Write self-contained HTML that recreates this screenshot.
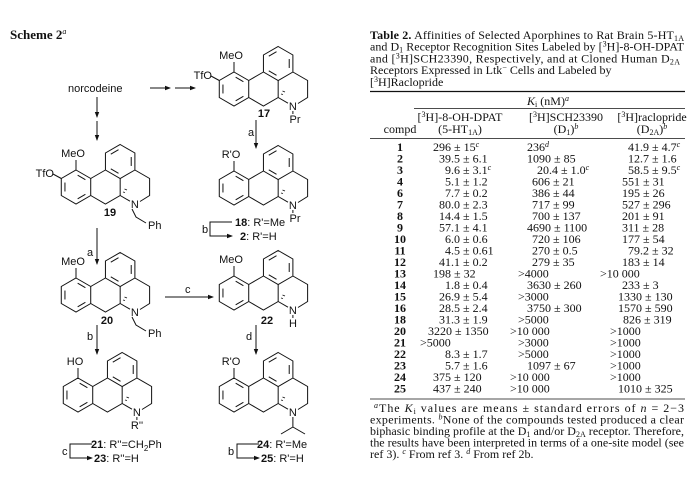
<!DOCTYPE html>
<html><head><meta charset="utf-8"><style>
html,body{margin:0;padding:0;background:#fff;width:700px;height:489px;overflow:hidden}
svg{display:block}
.s{font-family:"Liberation Sans",sans-serif;font-size:11px;fill:#111}
.t{font-family:"Liberation Serif",serif;font-size:12px;fill:#111}
.b{font-weight:bold}
.ln{stroke:#111;stroke-width:1;fill:none}
</style></head><body>
<svg width="700" height="489" viewBox="0 0 700 489" xmlns="http://www.w3.org/2000/svg">
<defs>
<marker id="ah" markerWidth="6" markerHeight="6" refX="5" refY="3" orient="auto" markerUnits="userSpaceOnUse"><path d="M0,0.8 L6,3 L0,5.2z" fill="#111"/></marker>
<g id="ap">
<polygon class="ln" points="0,-17 14.72,-8.5 14.72,8.5 0,17 -14.72,8.5 -14.72,-8.5"/>
<polyline class="ln" points="14.72,8.5 29.44,17 44.17,8.5 44.17,-8.5"/>
<polygon class="ln" points="44.17,-42.5 58.89,-34 58.89,-17 44.17,-8.5 29.44,-17 29.44,-34"/>
<polyline class="ln" points="29.44,-17 14.72,-8.5"/>
<polyline class="ln" points="58.89,-17 73.61,-8.5 73.61,8.5 64,14.5"/>
<line class="ln" x1="44.17" y1="8.5" x2="54" y2="14.2"/>
<line class="ln" x1="-11.05" y1="-4.46" x2="-11.05" y2="4.46"/>
<line class="ln" x1="1.66" y1="11.8" x2="9.39" y2="7.33"/>
<line class="ln" x1="9.39" y1="-7.33" x2="1.66" y2="-11.8"/>
<line class="ln" x1="34.78" y1="-32.83" x2="42.51" y2="-37.3"/>
<line class="ln" x1="55.22" y1="-29.96" x2="55.22" y2="-21.04"/>
<line class="ln" x1="42.51" y1="-13.7" x2="34.78" y2="-18.17"/>
<g stroke="#111" stroke-width="0.9"><line x1="47" y1="5" x2="49" y2="5.5"/><line x1="48.5" y1="2" x2="51" y2="3"/></g>
<text class="s" x="58.9" y="21" text-anchor="middle">N</text>
</g>
</defs>

<text class="t b" x="10" y="39" style="font-size:13px">Scheme 2<tspan font-style="italic" font-weight="normal" font-size="8" dy="-5">a</tspan></text>

<text class="s" x="68" y="92">norcodeine</text>
<g class="ln">
<line x1="150" y1="88" x2="170" y2="88" marker-end="url(#ah)"/>
<line x1="175" y1="88" x2="195" y2="88" marker-end="url(#ah)"/>
<line x1="97" y1="97" x2="97" y2="117" marker-end="url(#ah)"/>
<line x1="97" y1="121" x2="97" y2="140" marker-end="url(#ah)"/>
<line x1="256" y1="120" x2="256" y2="148" marker-end="url(#ah)"/>
<line x1="97" y1="228" x2="97" y2="264" marker-end="url(#ah)"/>
<line x1="97" y1="325" x2="97" y2="354" marker-end="url(#ah)"/>
<line x1="165" y1="297" x2="213" y2="297" marker-end="url(#ah)"/>
<line x1="256" y1="325" x2="256" y2="354" marker-end="url(#ah)"/>
<polyline points="232,222 210,222 210,236 232,236" marker-end="url(#ah)"/>
<polyline points="92,444 70,444 70,458 92,458" marker-end="url(#ah)"/>
<polyline points="259,444 237,444 237,458 259,458" marker-end="url(#ah)"/>
</g>
<text class="s" x="248" y="136">a</text>
<text class="s" x="87" y="256">a</text>
<text class="s" x="87" y="340">b</text>
<text class="s" x="185" y="293">c</text>
<text class="s" x="246" y="340">d</text>
<text class="s" x="202" y="233">b</text>
<text class="s" x="62" y="455">c</text>
<text class="s" x="228" y="455">b</text>

<!-- 17 -->
<g transform="translate(234,89)">
<use href="#ap"/>
<line class="ln" x1="0" y1="-17" x2="0" y2="-27"/>
<text class="s" x="-3" y="-30" text-anchor="middle">MeO</text>
<line class="ln" x1="-14.72" y1="-8.5" x2="-23" y2="-13"/>
<text class="s" x="-22" y="-10" text-anchor="end">TfO</text>
<line class="ln" x1="58.89" y1="22" x2="58.89" y2="25"/>
<text class="s" x="61" y="34" text-anchor="middle">Pr</text>
</g>
<text class="s b" x="264" y="117" text-anchor="middle">17</text>

<!-- 19 -->
<g transform="translate(76,187)">
<use href="#ap"/>
<line class="ln" x1="0" y1="-17" x2="0" y2="-27"/>
<text class="s" x="-3" y="-30" text-anchor="middle">MeO</text>
<line class="ln" x1="-14.72" y1="-8.5" x2="-23" y2="-13"/>
<text class="s" x="-22" y="-10" text-anchor="end">TfO</text>
<polyline class="ln" points="56,22 60,30 70,36"/>
<text class="s" x="72" y="42">Ph</text>
</g>
<text class="s b" x="110" y="216" text-anchor="middle">19</text>

<!-- 18 -->
<g transform="translate(234,188)">
<use href="#ap"/>
<line class="ln" x1="0" y1="-17" x2="0" y2="-27"/>
<text class="s" x="-3" y="-30" text-anchor="middle">R'O</text>
<line class="ln" x1="58.89" y1="22" x2="58.89" y2="25"/>
<text class="s" x="61" y="34" text-anchor="middle">Pr</text>
</g>
<text class="s" x="235" y="226"><tspan class="b">18</tspan>: R'=Me</text>
<text class="s" x="240" y="240"><tspan class="b">2</tspan>: R'=H</text>

<!-- 20 -->
<g transform="translate(76,295)">
<use href="#ap"/>
<line class="ln" x1="0" y1="-17" x2="0" y2="-27"/>
<text class="s" x="-3" y="-30" text-anchor="middle">MeO</text>
<polyline class="ln" points="56,22 60,30 70,36"/>
<text class="s" x="72" y="42">Ph</text>
</g>
<text class="s b" x="107" y="324" text-anchor="middle">20</text>

<!-- 22 -->
<g transform="translate(234,293)">
<use href="#ap"/>
<line class="ln" x1="0" y1="-17" x2="0" y2="-27"/>
<text class="s" x="-3" y="-30" text-anchor="middle">MeO</text>
<line class="ln" x1="58.89" y1="22" x2="58.89" y2="25"/>
<text class="s" x="59" y="34" text-anchor="middle">H</text>
</g>
<text class="s b" x="267" y="324" text-anchor="middle">22</text>

<!-- 21 -->
<g transform="translate(78,395)">
<use href="#ap"/>
<line class="ln" x1="0" y1="-17" x2="0" y2="-27"/>
<text class="s" x="-3" y="-30" text-anchor="middle">HO</text>
<line class="ln" x1="58.89" y1="22" x2="58.89" y2="25"/>
<text class="s" x="59" y="34" text-anchor="middle">R''</text>
</g>
<text class="s" x="91" y="448"><tspan class="b">21</tspan>: R''=CH<tspan font-size="8" dy="3">2</tspan><tspan dy="-3">Ph</tspan></text>
<text class="s" x="94" y="462"><tspan class="b">23</tspan>: R''=H</text>

<!-- 24 -->
<g transform="translate(234,395)">
<use href="#ap"/>
<line class="ln" x1="0" y1="-17" x2="0" y2="-27"/>
<text class="s" x="-3" y="-30" text-anchor="middle">R'O</text>
<polyline class="ln" points="58.89,22 58.89,32 47,39"/>
<line class="ln" x1="58.89" y1="32" x2="71" y2="39"/>
</g>
<text class="s" x="257" y="448"><tspan class="b">24</tspan>: R'=Me</text>
<text class="s" x="261" y="462"><tspan class="b">25</tspan>: R'=H</text>

<!-- TABLE -->
<text class="t" x="370" y="39" textLength="314" lengthAdjust="spacing"><tspan class="b">Table 2.</tspan> Affinities of Selected Aporphines to Rat Brain 5-HT<tspan font-size="8" dy="2">1A</tspan></text>
<text class="t" x="370" y="50.7" textLength="314" lengthAdjust="spacing">and D<tspan font-size="8" dy="2">1</tspan><tspan dy="-2"> Receptor Recognition Sites Labeled by [</tspan><tspan font-size="8" dy="-4">3</tspan><tspan dy="4">H]-8-OH-DPAT</tspan></text>
<text class="t" x="370" y="62.3" textLength="310" lengthAdjust="spacing">and [<tspan font-size="8" dy="-4">3</tspan><tspan dy="4">H]SCH23390, Respectively, and at Cloned Human D</tspan><tspan font-size="8" dy="2">2A</tspan></text>
<text class="t" x="370" y="74">Receptors Expressed in Ltk<tspan font-size="8" dy="-4">−</tspan><tspan dy="4"> Cells and Labeled by</tspan></text>
<text class="t" x="370" y="86">[<tspan font-size="8" dy="-4">3</tspan><tspan dy="4">H]Raclopride</tspan></text>
<line x1="370" y1="91.5" x2="685" y2="91.5" stroke="#111" stroke-width="1.3"/>
<text class="t" x="548" y="105" text-anchor="middle"><tspan font-style="italic">K</tspan><tspan font-size="8" dy="2">i</tspan><tspan dy="-2"> (nM)</tspan><tspan font-size="8" font-style="italic" dy="-4">a</tspan></text>
<line x1="414" y1="108.5" x2="685" y2="108.5" stroke="#111" stroke-width="0.8"/>
<text class="t" x="460" y="121" text-anchor="middle">[<tspan font-size="8" dy="-4">3</tspan><tspan dy="4">H]-8-OH-DPAT</tspan></text>
<text class="t" x="460" y="133" text-anchor="middle">(5-HT<tspan font-size="8" dy="2">1A</tspan><tspan dy="-2">)</tspan></text>
<text class="t" x="566" y="121" text-anchor="middle">[<tspan font-size="8" dy="-4">3</tspan><tspan dy="4">H]SCH23390</tspan></text>
<text class="t" x="566" y="133" text-anchor="middle">(D<tspan font-size="8" dy="2">1</tspan><tspan dy="-2">)</tspan><tspan font-size="8" font-style="italic" dy="-4">b</tspan></text>
<text class="t" x="652" y="121" text-anchor="middle">[<tspan font-size="8" dy="-4">3</tspan><tspan dy="4">H]raclopride</tspan></text>
<text class="t" x="652" y="133" text-anchor="middle">(D<tspan font-size="8" dy="2">2A</tspan><tspan dy="-2">)</tspan><tspan font-size="8" font-style="italic" dy="-4">b</tspan></text>
<text class="t" x="400" y="133" text-anchor="middle">compd</text>
<line x1="370" y1="138.5" x2="685" y2="138.5" stroke="#111" stroke-width="0.8"/>

<g class="t">
<g class="b" text-anchor="middle">
<text x="400" y="151">1</text><text x="400" y="162.5">2</text><text x="400" y="174">3</text><text x="400" y="185.5">4</text><text x="400" y="197">6</text><text x="400" y="208.5">7</text><text x="400" y="220">8</text><text x="400" y="231.5">9</text><text x="400" y="243">10</text><text x="400" y="254.5">11</text><text x="400" y="266">12</text><text x="400" y="277.5">13</text><text x="400" y="289">14</text><text x="400" y="300.5">15</text><text x="400" y="312">16</text><text x="400" y="323.5">18</text><text x="400" y="335">20</text><text x="400" y="346.5">21</text><text x="400" y="358">22</text><text x="400" y="369.5">23</text><text x="400" y="381">24</text><text x="400" y="392.5">25</text>
</g>
<text x="433" y="151">296 ± 15<tspan font-size="8" font-style="italic" dy="-4">c</tspan></text>
<text x="439" y="162.5">39.5 ± 6.1</text>
<text x="445" y="174">9.6 ± 3.1<tspan font-size="8" font-style="italic" dy="-4">c</tspan></text>
<text x="445" y="185.5">5.1 ± 1.2</text>
<text x="445" y="197">7.7 ± 0.2</text>
<text x="439" y="208.5">80.0 ± 2.3</text>
<text x="439" y="220">14.4 ± 1.5</text>
<text x="439" y="231.5">57.1 ± 4.1</text>
<text x="445" y="243">6.0 ± 0.6</text>
<text x="445" y="254.5">4.5 ± 0.61</text>
<text x="439" y="266">41.1 ± 0.2</text>
<text x="433" y="277.5">198 ± 32</text>
<text x="445" y="289">1.8 ± 0.4</text>
<text x="439" y="300.5">26.9 ± 5.4</text>
<text x="439" y="312">28.5 ± 2.4</text>
<text x="439" y="323.5">31.3 ± 1.9</text>
<text x="428" y="335">3220 ± 1350</text>
<text x="420" y="346.5">&gt;5000</text>
<text x="445" y="358">8.3 ± 1.7</text>
<text x="445" y="369.5">5.7 ± 1.6</text>
<text x="433" y="381">375 ± 120</text>
<text x="433" y="392.5">437 ± 240</text>

<text x="527" y="151">236<tspan font-size="8" font-style="italic" dy="-4">d</tspan></text>
<text x="527" y="162.5">1090 ± 85</text>
<text x="537" y="174">20.4 ± 1.0<tspan font-size="8" font-style="italic" dy="-4">c</tspan></text>
<text x="532" y="185.5">606 ± 21</text>
<text x="532" y="197">386 ± 44</text>
<text x="532" y="208.5">717 ± 99</text>
<text x="532" y="220">700 ± 137</text>
<text x="527" y="231.5">4690 ± 1100</text>
<text x="532" y="243">720 ± 106</text>
<text x="532" y="254.5">270 ± 0.5</text>
<text x="532" y="266">279 ± 35</text>
<text x="518" y="277.5">&gt;4000</text>
<text x="527" y="289">3630 ± 260</text>
<text x="518" y="300.5">&gt;3000</text>
<text x="527" y="312">3750 ± 300</text>
<text x="518" y="323.5">&gt;5000</text>
<text x="510" y="335">&gt;10 000</text>
<text x="518" y="346.5">&gt;3000</text>
<text x="518" y="358">&gt;5000</text>
<text x="527" y="369.5">1097 ± 67</text>
<text x="510" y="381">&gt;10 000</text>
<text x="510" y="392.5">&gt;10 000</text>

<text x="628" y="151">41.9 ± 4.7<tspan font-size="8" font-style="italic" dy="-4">c</tspan></text>
<text x="628" y="162.5">12.7 ± 1.6</text>
<text x="628" y="174">58.5 ± 9.5<tspan font-size="8" font-style="italic" dy="-4">c</tspan></text>
<text x="622" y="185.5">551 ± 31</text>
<text x="622" y="197">195 ± 26</text>
<text x="622" y="208.5">527 ± 296</text>
<text x="622" y="220">201 ± 91</text>
<text x="622" y="231.5">311 ± 28</text>
<text x="622" y="243">177 ± 54</text>
<text x="628" y="254.5">79.2 ± 32</text>
<text x="622" y="266">183 ± 14</text>
<text x="600" y="277.5">&gt;10 000</text>
<text x="622" y="289">233 ± 3</text>
<text x="618" y="300.5">1330 ± 130</text>
<text x="618" y="312">1570 ± 590</text>
<text x="623" y="323.5">826 ± 319</text>
<text x="610" y="335">&gt;1000</text>
<text x="610" y="346.5">&gt;1000</text>
<text x="610" y="358">&gt;1000</text>
<text x="610" y="369.5">&gt;1000</text>
<text x="610" y="381">&gt;1000</text>
<text x="618" y="392.5">1010 ± 325</text>
</g>
<line x1="370" y1="399" x2="685" y2="399" stroke="#111" stroke-width="0.8"/>
<text class="t" x="374" y="412" textLength="310" lengthAdjust="spacing"><tspan font-size="8" font-style="italic" dy="-4">a</tspan><tspan dy="4">The </tspan><tspan font-style="italic">K</tspan><tspan font-size="8" dy="2">i</tspan><tspan dy="-2"> values are means ± standard errors of </tspan><tspan font-style="italic">n</tspan> = 2−3</text>
<text class="t" x="370" y="423.5" textLength="314" lengthAdjust="spacing">experiments. <tspan font-size="8" font-style="italic" dy="-4">b</tspan><tspan dy="4">None of the compounds tested produced a clear</tspan></text>
<text class="t" x="370" y="435" textLength="314" lengthAdjust="spacing">biphasic binding profile at the D<tspan font-size="8" dy="2">1</tspan><tspan dy="-2"> and/or D</tspan><tspan font-size="8" dy="2">2A</tspan><tspan dy="-2"> receptor. Therefore,</tspan></text>
<text class="t" x="370" y="446.5" textLength="314" lengthAdjust="spacing">the results have been interpreted in terms of a one-site model (see</text>
<text class="t" x="370" y="458">ref 3). <tspan font-size="8" font-style="italic" dy="-4">c</tspan><tspan dy="4"> From ref 3. </tspan><tspan font-size="8" font-style="italic" dy="-4">d</tspan><tspan dy="4"> From ref 2b.</tspan></text>
</svg>
</body></html>
